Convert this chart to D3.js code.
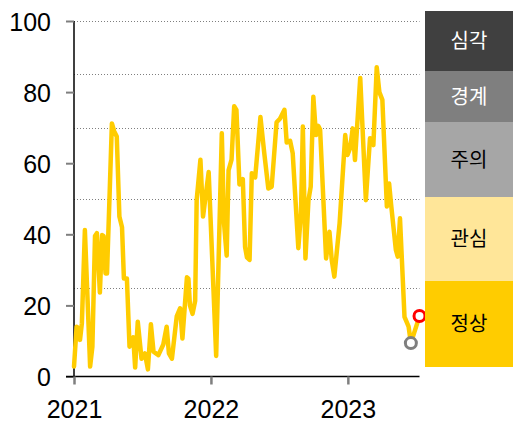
<!DOCTYPE html>
<html><head><meta charset="utf-8">
<script src="https://cdn.jsdelivr.net/npm/d3@7"></script>
<style>
html,body{margin:0;padding:0;background:#fff;}
svg{display:block;}
</style></head>
<body>
<svg id="chart" width="513" height="425"></svg>
<script>
// ---- data ----
const startDate = "2021-01-01";
const dayOffsets = [0,7,12,16,21,29,43,49,56,61,69,75,79,84,88,95,101,107,114,121,128,133,141,148,158,163,170,180,189,197,205,212,225,238,247,253,261,274,283,289,301,305,309,316,323,327,337,344,359,379,394,400,407,412,420,427,433,441,450,456,461,468,474,483,497,507,518,527,540,549,561,567,576,583,598,605,610,617,625,631,638,645,651,656,672,681,687,694,708,723,729,736,743,749,763,778,789,798,807,814,822,834,840,845,858,863,869,881,892,898,921];
const indexValues = [2.8,14,13.5,10.3,15,41.2,2.8,8.4,39.5,40.3,23.6,39.8,39.5,29,29,51.5,71.2,69,67.5,45,42,27.6,27.6,8.4,11,2.5,15.4,5,6.5,2,14.7,7,6,9,14,6.5,5,17,19.2,10.7,27.9,27.5,20,17.6,21.3,49.6,61,45,57.5,5.8,68.4,43,34,58,61,76,75,54,55.5,36.5,33.5,32.8,57.2,56,73,63,52.9,53.4,71.5,72.5,75,65.8,66.3,62.8,36.1,45.9,70.3,33.2,49.6,53.4,78.7,67.9,70.5,69.5,33.2,40.7,32.8,28.1,43.1,67.9,62.3,64.2,69.8,60.9,84,49.6,67,65.1,87,80,77.8,47.8,54.3,48.7,35.6,33.7,44.5,16.8,14,9.4,17];
const yTicks = [0,20,40,60,80,100];
const xTickYears = ["2021","2022","2023"];
const thresholds = [100,85,70,50,25];
const levelNames = ["심각","경계","주의","관심","정상"];
const levelColors = ["#404040","#7f7f7f","#a6a6a6","#ffe699","#ffcc00"];
const levelTextColors = ["#ffffff","#ffffff","#000000","#000000","#000000"];

// ---- layout ----
const svg = d3.select("#chart");
const x0 = 74, x1 = 419.5, yTop = 21, yBot = 376.5;
const t0 = d3.isoParse(startDate);
const data = dayOffsets.map((d,i)=>({date:d3.timeDay.offset(t0,d), v:indexValues[i]}));
const x = d3.scaleTime().domain([t0, data[data.length-1].date]).range([x0,x1]);
const y = d3.scaleLinear().domain([0,100]).range([yBot,yTop]);

// gridlines (thresholds)
svg.append("g").selectAll("line").data(thresholds).join("line")
  .attr("x1",x0).attr("x2",x1)
  .attr("y1",d=>Math.round(y(d))+0.5).attr("y2",d=>Math.round(y(d))+0.5)
  .attr("stroke","#7f7f7f").attr("stroke-width",1).attr("stroke-dasharray","1,2");

// y axis
const yAxis = d3.axisLeft(y).tickValues(yTicks).tickSize(8).tickPadding(15);
const gy = svg.append("g").attr("transform",`translate(${x0},0)`).call(yAxis);
gy.select(".domain").attr("stroke","#000").attr("stroke-width",1.5).attr("d",`M0,${yTop}V${yBot}`);
gy.selectAll(".tick line").attr("stroke","#7f7f7f").attr("stroke-width",2);
gy.selectAll(".tick text").attr("font-family","Liberation Sans, Arial, sans-serif")
  .attr("font-size",25).attr("fill","#000").attr("dy","0.36em");

// x axis
const xTicks = xTickYears.map(s=>d3.isoParse(s+"-01-01"));
const xAxis = d3.axisBottom(x).tickValues(xTicks).tickFormat(d3.timeFormat("%Y")).tickSize(8).tickPadding(16);
const gx = svg.append("g").attr("transform",`translate(0,${yBot})`).call(xAxis);
gx.select(".domain").attr("stroke","#000").attr("stroke-width",1.5).attr("d",`M${x0-8},0H${x1}`);
gx.selectAll(".tick line").attr("stroke","#7f7f7f").attr("stroke-width",2.5);
gx.selectAll(".tick text").attr("font-family","Liberation Sans, Arial, sans-serif")
  .attr("font-size",25).attr("fill","#000");

// line
const line = d3.line().x(d=>x(d.date)).y(d=>y(d.v));
svg.append("path").datum(data).attr("d",line)
  .attr("fill","none").attr("stroke","#ffcc00").attr("stroke-width",4.5)
  .attr("stroke-linejoin","round").attr("stroke-linecap","round");

// markers: previous (grey) and latest (red)
const prev = data[data.length-2], last = data[data.length-1];
svg.append("circle").attr("cx",x(prev.date)).attr("cy",y(prev.v)).attr("r",5.5)
  .attr("fill","#fff").attr("stroke","#7f7f7f").attr("stroke-width",3);
svg.append("circle").attr("cx",x(last.date)).attr("cy",y(last.v)).attr("r",5.5)
  .attr("fill","#fff").attr("stroke","#ff0000").attr("stroke-width",3);

// level panel
const panelX = 425, panelW = 88;
const edges = [11,71,122,197,281,367];
const lg = svg.append("g");
levelNames.forEach((name,i)=>{
  lg.append("rect").attr("x",panelX).attr("y",edges[i]).attr("width",panelW)
    .attr("height",edges[i+1]-edges[i]).attr("fill",levelColors[i]);
  lg.append("text").attr("x",panelX+panelW/2).attr("y",(edges[i]+edges[i+1])/2-1.5)
    .attr("text-anchor","middle").attr("dominant-baseline","central")
    .attr("font-family","Noto Sans CJK KR, sans-serif").attr("font-size",20)
    .attr("fill",levelTextColors[i]).text(name);
});
</script>
</body></html>
